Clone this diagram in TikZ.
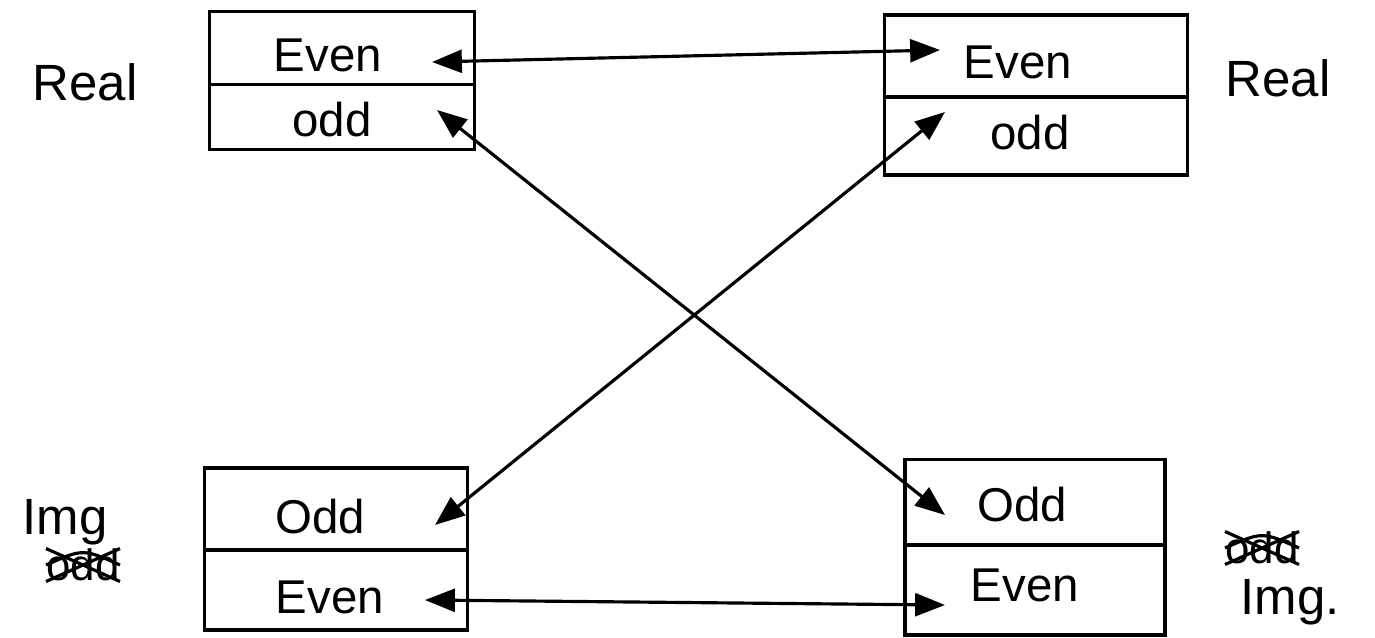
\documentclass[tikz,border=0pt]{standalone}
\usepackage{fontspec}
\setmainfont{Liberation Sans}
\usetikzlibrary{arrows.meta}
\begin{document}
\begin{tikzpicture}[x=0.02cm,y=-0.02cm,
  cell/.style={draw,line width=2.2pt,inner sep=0pt,anchor=center},
  txt/.style={font=\fontsize{27}{30}\selectfont,inner sep=0pt},
  side/.style={font=\fontsize{29}{32}\selectfont,inner sep=0pt},
  struck/.style={font=\fontsize{25}{28}\selectfont,inner sep=0pt},
  link/.style={line width=1.8pt,{Triangle[length=17pt,width=13pt]}-{Triangle[length=17pt,width=13pt]}},
  scribble/.style={line width=1.8pt}]
\useasboundingbox (0,0) rectangle (1375,637);
% top-left
\node[cell,minimum width=265*0.02cm,minimum height=73*0.02cm] (tle) at (342,48) {};
\node[cell,minimum width=265*0.02cm,minimum height=65*0.02cm] (tlo) at (342,117) {};
\node[txt] (tlet) at (328,55) {Even};
\node[txt] (tlot) at (332,120) {odd};
% top-right
\node[cell,minimum width=303*0.02cm,minimum height=82*0.02cm] (tre) at (1036,56) {};
\node[cell,minimum width=303*0.02cm,minimum height=78*0.02cm] (tro) at (1036,136) {};
\node[txt] (tret) at (1018,62) {Even};
\node[txt] (trot) at (1030,133) {odd};
% bottom-left
\node[cell,minimum width=263*0.02cm,minimum height=82*0.02cm] (blo) at (336,509) {};
\node[cell,minimum width=263*0.02cm,minimum height=80*0.02cm] (ble) at (336,590) {};
\node[txt] (blot) at (320,517) {Odd};
\node[txt] (blet) at (330,597) {Even};
% bottom-right
\node[cell,minimum width=260*0.02cm,minimum height=85*0.02cm] (bro) at (1035,502) {};
\node[cell,minimum width=260*0.02cm,minimum height=90*0.02cm] (bre) at (1035,590) {};
\node[txt] (brot) at (1022,505) {Odd};
\node[txt] (bret) at (1025,585) {Even};
% side labels
\node[side] (realL) at (85,82) {Real};
\node[side] (realR) at (1278,78) {Real};
\node[side] (imgL) at (65,522) {Img};
\node[struck] (oddL) at (83,565) {odd};
\node[struck] (oddR) at (1262,548) {odd};
\node[side] (imgR) at (1290,602) {Img.};
\draw[scribble] (oddL.south west) -- (oddL.north east) (oddL.north west) -- (oddL.south east)
  (oddL.west) .. controls (oddL.north) .. (oddL.east);
\draw[scribble] (oddR.south west) -- (oddR.north east) (oddR.north west) -- (oddR.south east)
  (oddR.west) .. controls (oddR.north) .. (oddR.east);
% arrow ends
\coordinate (a1l) at (432,62); \coordinate (a1r) at (940,50);
\coordinate (a2l) at (437,110); \coordinate (a2r) at (945,515);
\coordinate (a3r) at (945,112); \coordinate (a3l) at (435,525);
\coordinate (a4l) at (425,600); \coordinate (a4r) at (945,605);
\draw[link] (a1l) -- (a1r);
\draw[link] (a2l) -- (a2r);
\draw[link] (a3r) -- (a3l);
\draw[link] (a4l) -- (a4r);
\end{tikzpicture}
\end{document}
